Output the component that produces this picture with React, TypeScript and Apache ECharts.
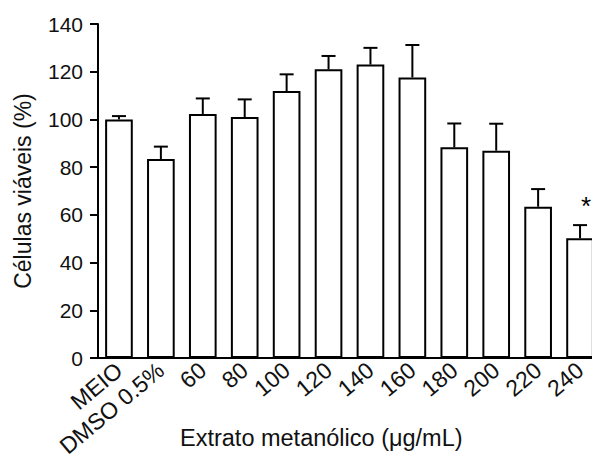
import React, { useEffect, useRef } from "react";
import * as echarts from "echarts";

const categories = ["MEIO", "DMSO 0.5%", "60", "80", "100", "120", "140", "160", "180", "200", "220", "240"];
const means = [100, 83.4, 102.3, 101, 111.9, 121, 123, 117.6, 88.3, 86.9, 63.4, 50.2];
const errors = [1.4, 5.2, 6.5, 7.4, 7.0, 5.6, 7.0, 13.6, 10.0, 11.3, 7.4, 5.5];
const significance = ["", "", "", "", "", "", "", "", "", "", "", "*"];
const yMin = 0;
const yMax = 140;
const yInterval = 20;

const FONT = "Liberation Sans, Arial, Helvetica, sans-serif";

export default function App() {
  const ref = useRef<HTMLDivElement>(null);
  useEffect(() => {
    if (!ref.current) return;
    const chart = echarts.init(ref.current, null, { renderer: "svg" });
    chart.setOption({
      animation: false,
      backgroundColor: "#ffffff",
      grid: {
        left: 98,
        top: 24,
        width: 503,
        height: 334,
        containLabel: false,
        outerBoundsMode: "none",
      },
      xAxis: {
        type: "category",
        data: categories,
        boundaryGap: true,
        axisLine: { lineStyle: { color: "#000", width: 2 } },
        axisTick: { alignWithLabel: true, length: 7, lineStyle: { color: "#000", width: 2 } },
        axisLabel: {
          rotate: 40,
          interval: 0,
          margin: 9,
          color: "#111",
          fontSize: 23,
          fontFamily: FONT,
        },
      },
      yAxis: {
        type: "value",
        min: yMin,
        max: yMax,
        interval: yInterval,
        name: "Células viáveis (%)",
        nameLocation: "middle",
        nameGap: 64,
        nameTextStyle: { color: "#111", fontSize: 23, fontFamily: FONT },
        axisLine: { show: true, lineStyle: { color: "#000", width: 2 } },
        axisTick: { show: true, length: 8, lineStyle: { color: "#000", width: 2 } },
        axisLabel: { margin: 15, color: "#111", fontSize: 21, fontFamily: FONT },
        splitLine: { show: false },
      },
      graphic: [
        {
          type: "text",
          left: 180,
          top: 426,
          style: {
            text: "Extrato metanólico (μg/mL)",
            fontSize: 23.5,
            fontFamily: FONT,
            fill: "#111",
          },
        },
      ],
      series: [
        {
          type: "custom",
          z: 1,
          data: means.map((m, i) => [i, m, m + errors[i]]),
          renderItem: (params: any, api: any) => {
            const i = api.value(0);
            const top = api.coord([i, api.value(2)]);
            const base = api.coord([i, api.value(1)]);
            const half = 7;
            const children: any[] = [
              {
                type: "line",
                shape: { x1: base[0], y1: base[1], x2: top[0], y2: top[1] },
                style: { stroke: "#000", lineWidth: 2 },
              },
              {
                type: "line",
                shape: { x1: top[0] - half, y1: top[1], x2: top[0] + half, y2: top[1] },
                style: { stroke: "#000", lineWidth: 2 },
              },
            ];
            const sig = significance[params.dataIndex];
            if (sig) {
              children.push({
                type: "text",
                style: {
                  text: sig,
                  x: top[0] + 6,
                  y: top[1] - 6,
                  fontSize: 26,
                  fontFamily: FONT,
                  fill: "#000",
                  align: "center",
                  verticalAlign: "bottom",
                },
              });
            }
            return { type: "group", children };
          },
        },
        {
          type: "bar",
          z: 2,
          data: means,
          barCategoryGap: "34%",
          itemStyle: { color: "#ffffff", borderColor: "#000", borderWidth: 2 },
        },
      ],
    });
    return () => chart.dispose();
  }, []);
  return (
    <div
      ref={ref}
      style={{ position: "fixed", left: 0, top: 0, width: 592, height: 459, background: "#fff" }}
    />
  );
}
